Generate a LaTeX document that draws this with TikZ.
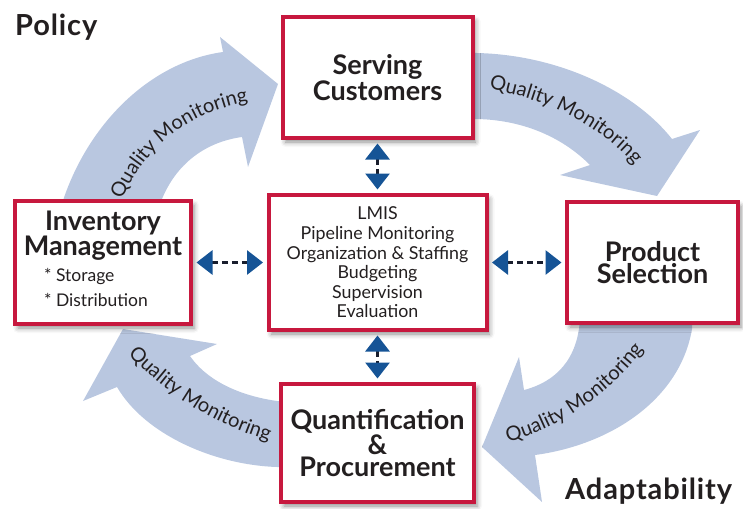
\documentclass[tikz,border=0pt]{standalone}
\usepackage{fontspec}
\setmainfont{Lato}
\usetikzlibrary{arrows.meta, shadows.blur, decorations.text}

\definecolor{boxred}{RGB}{199,24,62}
\definecolor{flowblue}{RGB}{185,199,224}
\definecolor{linkblue}{RGB}{22,84,150}
\definecolor{linkdark}{RGB}{25,30,45}
\definecolor{inkgray}{RGB}{35,31,32}

\newcommand\boxfont{\bfseries\fontsize{27}{22}\selectfont}
\newcommand\titlefont{\bfseries\fontsize{29}{29}\selectfont\addfontfeatures{LetterSpace=3}}
\newcommand\hubfont{\mdseries\fontsize{17.8}{19.6}\selectfont}
\newcommand\bulletfont{\mdseries\fontsize{17.5}{25}\selectfont}
\newcommand\flowfont{\fontsize{20}{20}\selectfont}

\begin{document}
\begin{tikzpicture}[x=1pt, y=-1pt,
    box/.style={draw=boxred, line width=4pt, fill=white, align=center, text=inkgray, font=\boxfont, inner sep=0pt,
        blur shadow={shadow xshift=3pt, shadow yshift=-4pt, shadow blur radius=5pt, shadow opacity=45}},
    link/.style={{Triangle[width=24pt,length=16pt,color=linkblue]}-{Triangle[width=24pt,length=16pt,color=linkblue]},
        draw=linkdark, line width=3pt, dash pattern=on 6pt off 4pt, shorten <=3.5pt, shorten >=3.5pt},
    flow/.style={fill=flowblue, draw=none},
    flowtext/.style={decorate, decoration={text along path, text align=left, text color=inkgray,
        text={|\flowfont|Quality Monitoring}}},
    title/.style={anchor=base west, font=\titlefont, text=inkgray, inner sep=0pt}]

    \useasboundingbox (0,0) rectangle (743,508);

    % quality monitoring loop
    \path[flow] (60,210) .. controls (85,125) and (150,62) .. (223,52) -- (220,37) -- (278,84)
        -- (248,167) -- (242,137) .. controls (205,142) and (172,165) .. (158,210) -- cycle;
    \path[flow] (465,52) -- (477,53) .. controls (560,55) and (635,92) .. (672,139) -- (700,130)
        -- (657,196) -- (560,175) -- (590,165) .. controls (560,135) and (520,120) .. (477,119) -- (465,119) -- cycle;
    \path[flow] (575,318) -- (692,318) -- (692,329) .. controls (680,400) and (610,445) .. (535,455)
        -- (542,502) -- (482,447) -- (519,357) -- (524,390) .. controls (555,382) and (578,360) .. (580,318) -- cycle;
    \path[flow] (285,401) -- (277,401) .. controls (235,395) and (205,378) .. (190,356) -- (217,344)
        -- (123,329) -- (83,401) -- (117,387) .. controls (145,435) and (215,465) .. (277,467) -- (285,467) -- cycle;

    \path[flowtext] (122,200) .. controls (146,145) and (190,110) .. (258,100);
    \path[flowtext] (489,89) .. controls (545,99) and (605,125) .. (645,178);
    \path[flowtext] (508,442) .. controls (560,427) and (612,397) .. (655,333);
    \path[flowtext] (128,354) .. controls (165,393) and (215,428) .. (290,447);

    % boxes
    \node (serve) [box, minimum width=190pt, minimum height=121pt] at (377.5,77.5) {Serving\\Customers};
    \node (hub)   [box, font=\hubfont, minimum width=218pt, minimum height=135pt] at (377.5,262.5)
        {LMIS\\Pipeline Monitoring\\Organization \& Staffing\\Budgeting\\Supervision\\Evaluation};
    \node (inv)   [box, minimum width=176pt, minimum height=123pt] at (103,262.5)
        {Inventory\\Management\\[2pt]{\bulletfont\begin{tabular}[t]{@{}l@{}}{*} Storage\\{*} Distribution\end{tabular}}\hspace*{14pt}};
    \node (prod)  [box, minimum width=171pt, minimum height=121pt] at (652.5,262.5) {Product\\Selection};
    \node (quant) [box, minimum width=193pt, minimum height=118pt] at (377.5,443) {Quantification\\\&\\Procurement};

    \draw[link] (serve) -- (hub);
    \draw[link] (hub)   -- (quant);
    \draw[link] (inv)   -- (hub);
    \draw[link] (hub)   -- (prod);

    \node (policy) [title] at (15,36)  {Policy};
    \node (adapt)  [title] at (565,499) {Adaptability};
\end{tikzpicture}
\end{document}
